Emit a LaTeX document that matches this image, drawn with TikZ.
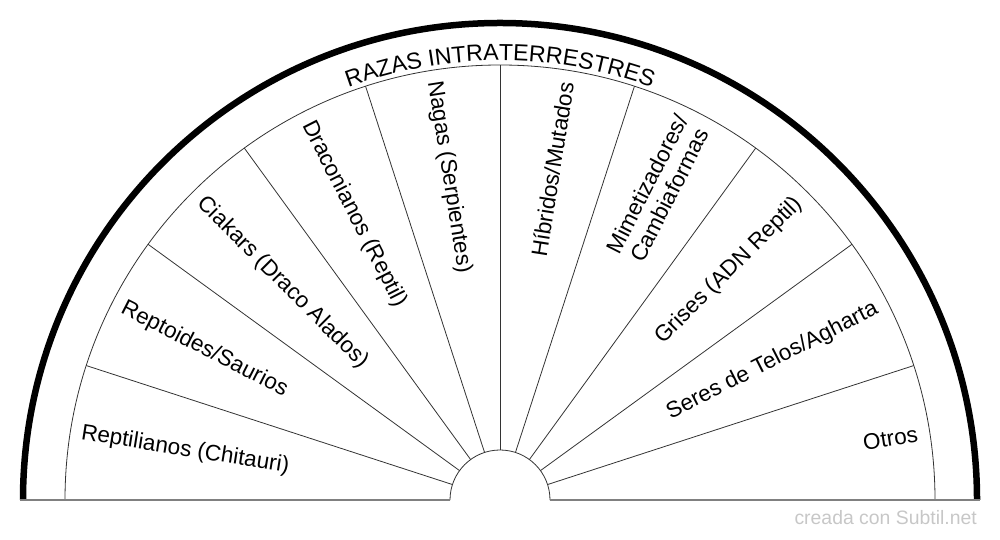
\documentclass[tikz,border=0pt]{standalone}
\usepackage{fontspec}
\setmainfont{Liberation Sans}
\usetikzlibrary{decorations.text}
\newcommand\lblfont{\fontsize{22.5}{25}\selectfont}
\newcommand\ttlfont{\fontsize{23.2}{25}\selectfont}
\begin{document}
\begin{tikzpicture}[x=1pt,y=1pt,
  lbl/.style={font=\lblfont, inner sep=0pt, text=black},
  rim/.style={line width=6.5pt, black},
  thinarc/.style={line width=0.8pt, black!80},
  radial/.style={line width=0.8pt, black!80},
  baseline/.style={line width=1.2pt, black!50},
  credit/.style={font=\fontsize{19.4}{22}\selectfont, text=black!22, inner sep=0pt}]
\useasboundingbox (0,0) rectangle (1000,540);
\coordinate (O) at (500,40);
% rims
\draw[rim] (977,40) arc[start angle=0, end angle=180, radius=477];
\draw[thinarc] (935,40) arc[start angle=0, end angle=180, radius=435];
\draw[thinarc] (550,40) arc[start angle=0, end angle=180, radius=50];
% baseline
\draw[baseline] (20,40) -- (450,40);
\draw[baseline] (550,40) -- (980,40);
% radial lines
\foreach \a in {18,36,...,162}
  \draw[radial] ([shift={(\a:50)}]O) -- ([shift={(\a:435)}]O);
% title along arc
\path[decorate, decoration={text along path, text align=center,
  text={|\ttlfont|RAZAS INTRATERRESTRES}}]
  (O) ++(130:439.5) arc[start angle=130, end angle=50, radius=439.5];
% left labels
\node[lbl, anchor=west, rotate=-9]  (l1) at ([shift={(171:424)}]O) {Reptilianos (Chitauri)};
\node[lbl, anchor=west, rotate=-27] (l2) at ([shift={(153:424)}]O) {Reptoides/Saurios};
\node[lbl, anchor=west, rotate=-45] (l3) at ([shift={(135:424)}]O) {Ciakars (Draco Alados)};
\node[lbl, anchor=west, rotate=-63] (l4) at ([shift={(117:424)}]O) {Draconianos (Reptil)};
\node[lbl, anchor=west, rotate=-81] (l5) at ([shift={(99:424)}]O) {Nagas (Serpientes)};
% right labels
\node[lbl, anchor=east, rotate=81] (r1) at ([shift={(81:423)}]O) {Híbridos/Mutados};
\node[lbl, anchor=east, rotate=63, align=center] (r2) at ([shift={(63:425)}]O) {Mimetizadores/\\Cambiaformas};
\node[lbl, anchor=east, rotate=45] (r3) at ([shift={(45:423)}]O) {Grises (ADN Reptil)};
\node[lbl, anchor=east, rotate=27] (r4) at ([shift={(27:423)}]O) {Seres de Telos/Agharta};
\node[lbl, anchor=east, rotate=9]  (r5) at ([shift={(9:423)}]O) {Otros};
% credit
\node[credit, anchor=base east] (cr) at (977,15) {creada con Subtil.net};
\end{tikzpicture}
\end{document}
